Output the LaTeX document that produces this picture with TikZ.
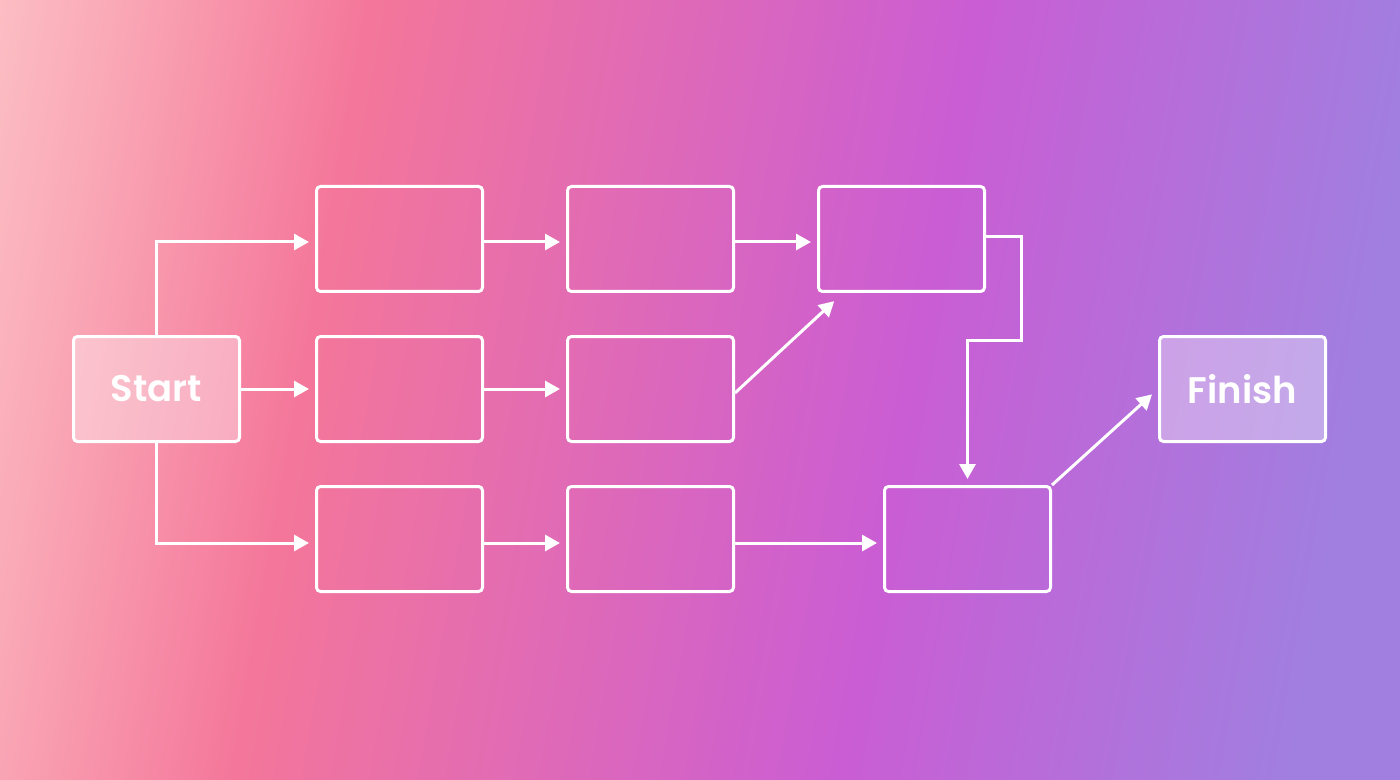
\documentclass[tikz,border=0pt]{standalone}
\usepackage{fontspec}
\setmainfont{Poppins}[BoldFont={Poppins SemiBold}]
\usetikzlibrary{arrows.meta}
\definecolor{bgL}{HTML}{FDCACB}
\definecolor{bgA}{HTML}{FAAAB7}
\definecolor{bgB}{HTML}{F4769A}
\definecolor{bgC}{HTML}{CA5DD4}
\definecolor{bgD}{HTML}{A07FE0}
\pgfdeclarehorizontalshading{bgshade}{100bp}{color(0bp)=(bgL); color(18bp)=(bgL); color(25bp)=(bgA); color(35bp)=(bgB); color(57.9bp)=(bgC); color(75bp)=(bgD); color(100bp)=(bgD)}
\begin{document}
\begin{tikzpicture}[x=0.5pt, y=-0.5pt,
  box/.style={draw=white, line width=1.5pt, rounded corners=2pt, minimum width=83pt, minimum height=52.5pt, inner sep=0pt},
  endbox/.style={box, fill=white, fill opacity=0.35, text opacity=1, text=white, font=\fontsize{18.5}{22}\selectfont\bfseries},
  arrow/.style={draw=white, line width=1.5pt, -{Triangle[length=7.5pt,width=8pt]}, shorten >=3pt}]
  \fill[shading=bgshade, shading angle=-10] (0,0) rectangle (1400,780);
  \useasboundingbox (0,0) rectangle (1400,780);

  \node[endbox] (start) at (156.5,389) {Start};
  \node[box] (a1) at (399.5,239) {};
  \node[box] (a2) at (650.5,239) {};
  \node[box] (a3) at (901.5,239) {};
  \node[box] (b1) at (399.5,389) {};
  \node[box] (b2) at (650.5,389) {};
  \node[box] (c1) at (399.5,539) {};
  \node[box] (c2) at (650.5,539) {};
  \node[box] (c3) at (967.5,539) {};
  \node[endbox] (finish) at (1242.5,389) {Finish};

  \draw[arrow] (start.north) |- ([yshift=-1.5pt]a1.west);
  \draw[arrow] (start.east) -- (b1.west);
  \draw[arrow] (start.south) |- ([yshift=-2pt]c1.west);

  \draw[arrow] ([yshift=-1.5pt]a1.east) -- ([yshift=-1.5pt]a2.west);
  \draw[arrow] ([yshift=-1.5pt]a2.east) -- ([yshift=-1.5pt]a3.west);
  \draw[arrow] (b1.east) -- (b2.west);
  \draw[arrow] ([yshift=-2pt]c1.east) -- ([yshift=-2pt]c2.west);
  \draw[arrow] ([yshift=-2pt]c2.east) -- ([yshift=-2pt]c3.west);

  \draw[arrow, shorten >=6pt] ([yshift=-2pt]b2.east) -- ([xshift=13pt]a3.south west);
  \coordinate (bend) at (1021,340);
  \draw[arrow] ([yshift=1pt]a3.east) -| (bend) -| (c3.north);
  \draw[arrow, shorten >=4pt] (c3.north east) -- (finish.west);
\end{tikzpicture}
\end{document}
